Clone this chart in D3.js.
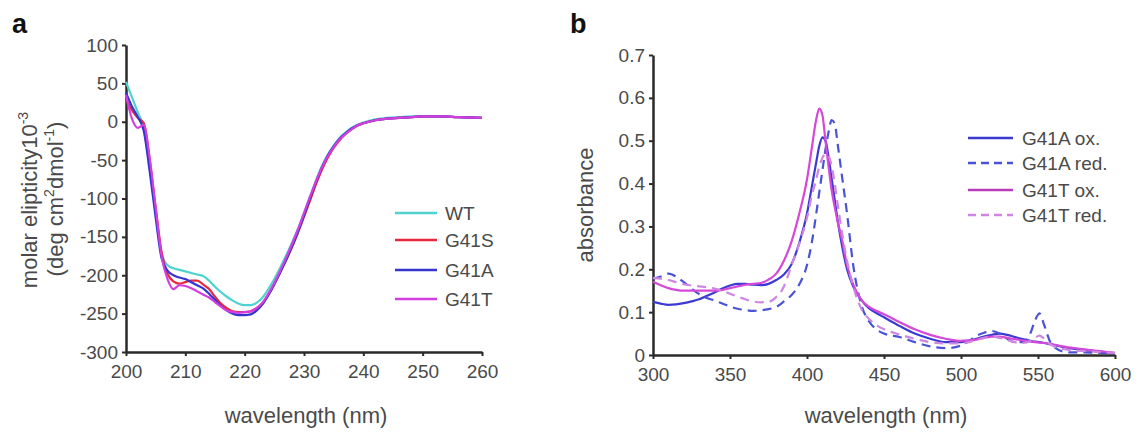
<!DOCTYPE html>
<html><head><meta charset="utf-8">
<script src="https://cdn.jsdelivr.net/npm/d3@7"></script>
<style>
body{margin:0;background:#fff;}
svg{display:block;font-family:"Liberation Sans",Arial,sans-serif;}
</style></head><body>
<svg id="c" width="1140" height="433"></svg>
<script>
// ---------- Panel a data (CD spectra) ----------
const wlA = [200,201,202,203,204,205,206,207,208,209,210,211,212,213,214,215,216,217,218,219,220,
             221,222,223,224,225,226,227,228,229,230,231,232,233,234,235,236,237,238,239,240,
             242,244,246,248,250,253,256,260];
const cdWT   = [52,32,12,-8,-58,-118,-172,-187,-191,-193,-195,-197,-199,-201,-207,-215,-222,-228,-233,-237,-239,
                -239,-236,-229,-218,-205,-190,-174,-157,-139,-119,-98,-77,-58,-43,-31,-21,-14,-8,-4,-1,
                3,5,6,7,7,7,6,5];
const cdG41S = [30,15,5,-2,-50,-112,-170,-198,-208,-211,-209,-207,-207,-212,-218,-228,-237,-243,-247,-248,-248,
                -247,-243,-236,-225,-211,-196,-180,-163,-144,-124,-103,-82,-63,-47,-34,-24,-16,-10,-5,-2,
                2,4,5,6,7,7,6,5];
const cdG41A = [38,20,6,-12,-65,-125,-178,-194,-200,-203,-205,-209,-213,-217,-224,-232,-240,-246,-250,-252,-252,
                -251,-246,-238,-226,-212,-196,-180,-162,-143,-122,-100,-79,-60,-44,-32,-22,-15,-9,-5,-2,
                2,4,5,6,7,7,6,5];
const cdG41T = [35,4,-8,-4,-48,-112,-175,-205,-218,-213,-214,-217,-221,-225,-229,-235,-241,-246,-248,-249,-248,
                -247,-243,-236,-224,-210,-194,-177,-159,-140,-119,-98,-78,-60,-45,-33,-23,-16,-10,-5,-2,
                2,4,5,6,7,7,6,5];
const seriesA = ["WT","G41S","G41A","G41T"];
const yTicksA = [100,50,0,-50,-100,-150,-200,-250,-300];
const xTicksA = [200,210,220,230,240,250,260];

// ---------- Panel b data (absorbance spectra) ----------
const wlB = [300,305,310,315,320,325,330,335,340,345,350,355,360,365,370,375,380,
             385,390,395,400,403,406,408,410,412,414,416,418,420,
             423,426,430,435,440,445,450,460,470,480,490,500,
             505,510,515,520,525,530,535,540,545,548,551,554,558,562,566,570,580,590,600];
const absG41Aox  = [0.124,0.120,0.117,0.118,0.121,0.125,0.130,0.138,0.146,0.155,0.162,0.166,0.166,0.164,0.163,0.166,0.175,
                    0.188,0.212,0.262,0.330,0.390,0.450,0.488,0.508,0.500,0.462,0.412,0.362,0.312,
                    0.250,0.200,0.160,0.130,0.110,0.098,0.088,0.068,0.050,0.038,0.030,0.030,
                    0.033,0.038,0.043,0.047,0.050,0.047,0.042,0.037,0.033,0.031,0.030,0.028,0.025,0.022,0.019,0.016,0.012,0.008,0.004];
const absG41Ared = [0.178,0.183,0.190,0.183,0.170,0.155,0.142,0.133,0.127,0.120,0.113,0.108,0.105,0.103,0.104,0.107,0.112,
                    0.125,0.140,0.165,0.210,0.260,0.330,0.380,0.430,0.480,0.520,0.548,0.540,0.490,
                    0.410,0.330,0.210,0.120,0.080,0.060,0.050,0.042,0.030,0.020,0.016,0.022,
                    0.032,0.045,0.052,0.056,0.050,0.038,0.030,0.030,0.050,0.080,0.097,0.070,0.030,0.015,0.008,0.006,0.006,0.005,0.004];
const absG41Tox  = [0.171,0.163,0.156,0.152,0.150,0.150,0.150,0.150,0.150,0.152,0.156,0.160,0.164,0.166,0.168,0.176,0.190,
                    0.220,0.265,0.330,0.410,0.480,0.550,0.575,0.560,0.500,0.440,0.385,0.345,0.310,
                    0.265,0.210,0.165,0.130,0.113,0.103,0.095,0.077,0.060,0.047,0.038,0.033,
                    0.034,0.036,0.040,0.043,0.043,0.040,0.037,0.034,0.031,0.030,0.029,0.028,0.026,0.023,0.020,0.018,0.013,0.009,0.005];
const absG41Tred = [0.180,0.178,0.175,0.170,0.165,0.162,0.160,0.158,0.155,0.150,0.143,0.136,0.130,0.125,0.123,0.124,0.135,
                    0.160,0.210,0.260,0.320,0.370,0.410,0.440,0.460,0.470,0.465,0.440,0.400,0.350,
                    0.280,0.220,0.160,0.110,0.085,0.070,0.060,0.048,0.038,0.030,0.027,0.027,
                    0.030,0.035,0.040,0.043,0.040,0.035,0.030,0.028,0.032,0.040,0.045,0.038,0.025,0.018,0.014,0.012,0.009,0.007,0.005];
const seriesB = ["G41A ox.","G41A red.","G41T ox.","G41T red."];
const yTicksB = [0,0.1,0.2,0.3,0.4,0.5,0.6,0.7];
const xTicksB = [300,350,400,450,500,550,600];

// ---------- drawing ----------
const svg = d3.select("#c");
const axisColor = "#2a2a2a", labelColor = "#4a4a4a";

function styleAxis(g){
  g.select(".domain").attr("stroke",axisColor).attr("stroke-width",2.5);
  g.selectAll(".tick line").attr("stroke",axisColor).attr("stroke-width",2);
  g.selectAll(".tick text").attr("fill",labelColor).attr("font-size",19)
   .attr("font-family","Liberation Sans, Arial, sans-serif");
}

// Panel a
const xA = d3.scaleLinear().domain([200,260]).range([126,482]);
const yA = d3.scaleLinear().domain([-300,100]).range([352,45]);
const colA = {"WT":"#4fd3d0","G41S":"#e8283f","G41A":"#3434cf","G41T":"#d23ee0"};
const dataA = {"WT":cdWT,"G41S":cdG41S,"G41A":cdG41A,"G41T":cdG41T};

svg.append("g").attr("transform","translate(0,352)")
  .call(d3.axisBottom(xA).tickValues(xTicksA).tickSize(4).tickSizeOuter(0).tickPadding(9).tickFormat(d=>String(d)))
  .call(styleAxis);
svg.append("g").attr("transform","translate(126,0)")
  .call(d3.axisLeft(yA).tickValues(yTicksA).tickSize(4).tickSizeOuter(0).tickPadding(4).tickFormat(d=>String(d)))
  .call(styleAxis);

const lineA = v => d3.line().x((d,i)=>xA(wlA[i])).y(d=>yA(d)).curve(d3.curveMonotoneX)(v);
seriesA.forEach(s=>{
  svg.append("path").attr("d",lineA(dataA[s])).attr("fill","none")
    .attr("stroke",colA[s]).attr("stroke-width",2.2).attr("stroke-linejoin","round");
});

const legA = [213,240,270,299];
seriesA.forEach((s,i)=>{
  svg.append("line").attr("x1",395).attr("x2",437).attr("y1",legA[i]).attr("y2",legA[i])
    .attr("stroke",colA[s]).attr("stroke-width",2.5);
  svg.append("text").attr("x",445).attr("y",legA[i]).attr("dy","0.35em")
    .attr("font-size",19).attr("fill",labelColor).text(s);
});

// axis titles a
const tA1 = svg.append("text").attr("transform","translate(37,200) rotate(-90)")
  .attr("text-anchor","middle").attr("font-size",22).attr("fill",labelColor);
tA1.append("tspan").text("molar elipticity10");
tA1.append("tspan").attr("dy",-9).attr("font-size",14).text("-3");
const tA2 = svg.append("text").attr("transform","translate(63,199) rotate(-90)")
  .attr("text-anchor","middle").attr("font-size",22).attr("fill",labelColor);
tA2.append("tspan").text("(deg cm");
tA2.append("tspan").attr("dy",-9).attr("font-size",14).text("2");
tA2.append("tspan").attr("dy",9).text("dmol");
tA2.append("tspan").attr("dy",-9).attr("font-size",14).text("-1");
tA2.append("tspan").attr("dy",9).text(")");
svg.append("text").attr("x",306).attr("y",423).attr("text-anchor","middle")
  .attr("font-size",22).attr("fill",labelColor).text("wavelength (nm)");
svg.append("text").attr("x",12).attr("y",33).attr("font-size",27).attr("font-weight","bold")
  .attr("fill","#111").text("a");

// Panel b
const xB = d3.scaleLinear().domain([300,600]).range([653,1115]);
const yB = d3.scaleLinear().domain([0,0.7]).range([355,55]);
const styleB = {
  "G41A ox.":  {c:"#3b3bd2", dash:null},
  "G41A red.": {c:"#4a52d6", dash:"9,6"},
  "G41T ox.":  {c:"#d548d8", dash:null},
  "G41T red.": {c:"#cf86e2", dash:"9,6"}
};
const dataB = {"G41A ox.":absG41Aox,"G41A red.":absG41Ared,"G41T ox.":absG41Tox,"G41T red.":absG41Tred};

svg.append("g").attr("transform","translate(0,355)")
  .call(d3.axisBottom(xB).tickValues(xTicksB).tickSize(4).tickSizeOuter(0).tickPadding(9).tickFormat(d=>String(d)))
  .call(styleAxis);
svg.append("g").attr("transform","translate(653,0)")
  .call(d3.axisLeft(yB).tickValues(yTicksB).tickSize(4).tickSizeOuter(0).tickPadding(4)
        .tickFormat(d=>d===0?"0":d3.format(".1f")(d)))
  .call(styleAxis);

const lineB = v => d3.line().x((d,i)=>xB(wlB[i])).y(d=>yB(d)).curve(d3.curveMonotoneX)(v);
seriesB.forEach(s=>{
  const p = svg.append("path").attr("d",lineB(dataB[s])).attr("fill","none")
    .attr("stroke",styleB[s].c).attr("stroke-width",2.2).attr("stroke-linejoin","round");
  if(styleB[s].dash) p.attr("stroke-dasharray",styleB[s].dash);
});

const legB = [138,163,190,215];
const legBcol = {"G41A ox.":"#3b3bd2","G41A red.":"#4a52d6","G41T ox.":"#b83cb8","G41T red.":"#cf86e2"};
seriesB.forEach((s,i)=>{
  const l = svg.append("line").attr("x1",968).attr("x2",1013).attr("y1",legB[i]).attr("y2",legB[i])
    .attr("stroke",legBcol[s]).attr("stroke-width",2.5);
  if(styleB[s].dash) l.attr("stroke-dasharray","8,5");
  svg.append("text").attr("x",1022).attr("y",legB[i]).attr("dy","0.35em")
    .attr("font-size",19).attr("fill",labelColor).text(s);
});

svg.append("text").attr("transform","translate(593,205) rotate(-90)").attr("text-anchor","middle")
  .attr("font-size",22).attr("fill",labelColor).text("absorbance");
svg.append("text").attr("x",886).attr("y",423).attr("text-anchor","middle")
  .attr("font-size",22).attr("fill",labelColor).text("wavelength (nm)");
svg.append("text").attr("x",570).attr("y",33).attr("font-size",27).attr("font-weight","bold")
  .attr("fill","#111").text("b");
</script>
</body></html>
